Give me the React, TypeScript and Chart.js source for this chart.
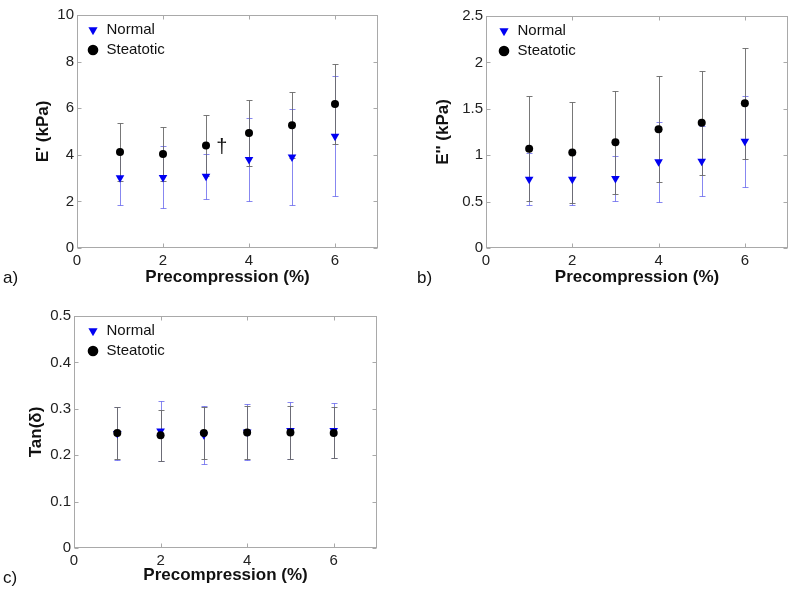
import React, { useEffect, useRef } from "react";
import { Chart, registerables } from "chart.js";

Chart.register(...registerables);

const FONT = "'Liberation Sans', Arial, Helvetica, sans-serif";
Chart.defaults.font.family = FONT;

// ---------------- data ----------------
const precompression = [1, 2, 3, 4, 5, 6];
const xTickValues = [0, 2, 4, 6];
const seriesNames = ["Normal", "Steatotic"];
const xTitle = "Precompression (%)";

// a) storage modulus E'
const storageNormal = [3.01, 3.03, 3.08, 3.8, 3.91, 4.8];
const storageNormalSD = [1.16, 1.33, 0.97, 1.77, 2.05, 2.57];
const storageSteatotic = [4.12, 4.03, 4.4, 4.94, 5.27, 6.18];
const storageSteatoticSD = [1.23, 1.17, 1.3, 1.4, 1.41, 1.73];
const storageTicks = [0, 2, 4, 6, 8, 10];
const storageMark = { x: 3.37, y: 4.33, text: "\u2020" };

// b) loss modulus E''
const lossNormal = [0.74, 0.74, 0.75, 0.93, 0.935, 1.15];
const lossNormalSD = [0.28, 0.28, 0.24, 0.43, 0.38, 0.49];
const lossSteatotic = [1.07, 1.03, 1.14, 1.28, 1.35, 1.56];
const lossSteatoticSD = [0.565, 0.54, 0.555, 0.57, 0.56, 0.6];
const lossTicks = [0, 0.5, 1, 1.5, 2, 2.5];

// c) loss tangent
const tanNormal = [0.247, 0.252, 0.244, 0.25, 0.253, 0.253];
const tanNormalSD = [0.057, 0.065, 0.062, 0.06, 0.061, 0.06];
const tanSteatotic = [0.248, 0.243, 0.248, 0.249, 0.249, 0.248];
const tanSteatoticSD = [0.056, 0.055, 0.056, 0.058, 0.058, 0.055];
const tanTicks = [0, 0.1, 0.2, 0.3, 0.4, 0.5];

// ---------------- plugins ----------------
const framePlugin = {
  id: "frameAndErrors",
  afterLayout(chart: any, _args: any, opts: any) {
    const lg = chart.legend;
    const a = chart.chartArea;
    if (lg && a) {
      lg.left = a.left + (opts.legendDx || 0);
      lg.top = a.top + (opts.legendDy || 0);
      lg.right = a.right;
      lg.bottom = a.bottom;
    }
  },
  beforeDatasetsDraw(chart: any) {
    const { ctx, chartArea: a } = chart;
    const xs = chart.scales.x;
    const ys = chart.scales.y;
    const line = (x1: number, y1: number, x2: number, y2: number) => {
      ctx.beginPath();
      ctx.moveTo(x1, y1);
      ctx.lineTo(x2, y2);
      ctx.stroke();
    };
    ctx.save();
    ctx.strokeStyle = "#a9a9a9";
    ctx.lineWidth = 1;
    const L = Math.round(a.left) + 0.5;
    const R = Math.round(a.right) - 0.5;
    const T = Math.round(a.top) + 0.5;
    const B = Math.round(a.bottom) - 0.5;
    ctx.strokeRect(L, T, R - L, B - T);
    const tl = 4;
    ys.ticks.forEach((t: any) => {
      const y = Math.round(ys.getPixelForValue(t.value)) + 0.5;
      line(L, y, L + tl, y);
      line(R, y, R - tl, y);
    });
    xs.ticks.forEach((t: any) => {
      const x = Math.round(xs.getPixelForValue(t.value)) + 0.5;
      line(x, B, x, B - tl);
      line(x, T, x, T + tl);
    });
    // error bars (mean +/- SD)
    const metas = chart.getSortedVisibleDatasetMetas();
    for (let i = metas.length - 1; i >= 0; i--) {
      const ds = chart.data.datasets[metas[i].index];
      const errs: number[] = ds.errors || [];
      ctx.strokeStyle = ds.errorColor;
      ds.data.forEach((pt: any, j: number) => {
        const x = Math.round(xs.getPixelForValue(pt.x)) + 0.5;
        const yt = Math.round(ys.getPixelForValue(pt.y + errs[j])) + 0.5;
        const yb = Math.round(ys.getPixelForValue(pt.y - errs[j])) + 0.5;
        line(x, yt, x, yb);
        line(x - 3, yt, x + 3, yt);
        line(x - 3, yb, x + 3, yb);
      });
    }
    ctx.restore();
  },
  afterDatasetsDraw(chart: any, _args: any, opts: any) {
    const m = opts.mark;
    if (!m) return;
    const { ctx } = chart;
    ctx.save();
    ctx.fillStyle = "#111";
    ctx.font = `20px ${FONT}`;
    ctx.textAlign = "center";
    ctx.textBaseline = "middle";
    ctx.fillText(m.text, chart.scales.x.getPixelForValue(m.x), chart.scales.y.getPixelForValue(m.y));
    ctx.restore();
  },
};

const toPoints = (ys: number[]) => precompression.map((x, i) => ({ x, y: ys[i] }));

type Area = { left: number; top: number; right: number; bottom: number };
type PanelProps = {
  left: number;
  top: number;
  width: number;
  height: number;
  area: Area;
  yTitleX: number;
  xTitleY: number;
  legendDx: number;
  yTitle: string;
  yTicks: number[];
  normal: number[];
  normalSD: number[];
  steatotic: number[];
  steatoticSD: number[];
  mark?: { x: number; y: number; text: string };
};

function Panel(p: PanelProps) {
  const ref = useRef<HTMLCanvasElement>(null);
  useEffect(() => {
    const titleSize = 17;
    const titleHalf = (titleSize * 1.2) / 2;
    const padLeft = p.yTitleX - titleHalf;
    const padBottom = p.height - p.xTitleY - titleHalf;
    const tickFont = { family: FONT, size: 15 };
    const titleFont = { family: FONT, size: titleSize, weight: "bold" as const };
    const chart = new Chart(ref.current as HTMLCanvasElement, {
      type: "scatter",
      data: {
        datasets: [
          {
            label: seriesNames[0],
            data: toPoints(p.normal),
            errors: p.normalSD,
            errorColor: "rgba(95,95,235,0.75)",
            pointStyle: "triangle",
            pointRotation: 180,
            pointRadius: 5,
            pointBackgroundColor: "#0000f2",
            pointBorderColor: "#0000f2",
            pointBorderWidth: 0,
            backgroundColor: "#0000f2",
            borderColor: "#0000f2",
            order: 2,
          } as any,
          {
            label: seriesNames[1],
            data: toPoints(p.steatotic),
            errors: p.steatoticSD,
            errorColor: "rgba(105,105,105,0.9)",
            pointStyle: "circle",
            pointRadius: 4,
            pointBackgroundColor: "#000",
            pointBorderColor: "#000",
            pointBorderWidth: 0,
            backgroundColor: "#000",
            borderColor: "#000",
            order: 1,
          } as any,
        ],
      },
      options: {
        responsive: false,
        animation: false,
        devicePixelRatio: 1,
        events: [],
        layout: {
          padding: {
            left: padLeft,
            top: p.area.top,
            right: p.width - p.area.right,
            bottom: padBottom,
          },
        },
        plugins: {
          tooltip: { enabled: false },
          legend: {
            position: "chartArea",
            align: "start",
            reverse: true,
            labels: {
              usePointStyle: true,
              boxWidth: 12,
              boxHeight: 7.5,
              padding: 5,
              color: "#111",
              font: { family: FONT, size: 15 },
            },
          },
          frameAndErrors: { mark: p.mark, legendDx: p.legendDx, legendDy: 2.5 },
        } as any,
        scales: {
          x: {
            type: "linear",
            min: 0,
            max: 7,
            afterBuildTicks: (s: any) => {
              s.ticks = xTickValues.map((v) => ({ value: v }));
            },
            afterFit: (s: any) => {
              s.height = p.height - padBottom - p.area.bottom;
            },
            grid: { display: false, drawTicks: false },
            border: { display: false },
            ticks: {
              padding: 4,
              maxRotation: 0,
              autoSkip: false,
              color: "#222",
              font: tickFont,
              callback: (v: any) => String(v),
            },
            title: { display: true, text: xTitle, color: "#111", font: titleFont, padding: 0 },
          },
          y: {
            type: "linear",
            min: p.yTicks[0],
            max: p.yTicks[p.yTicks.length - 1],
            afterBuildTicks: (s: any) => {
              s.ticks = p.yTicks.map((v) => ({ value: v }));
            },
            afterFit: (s: any) => {
              s.width = p.area.left - padLeft;
            },
            grid: { display: false, drawTicks: false },
            border: { display: false },
            ticks: {
              padding: 3,
              autoSkip: false,
              color: "#222",
              font: tickFont,
              callback: (v: any) => String(v),
            },
            title: { display: true, text: p.yTitle, color: "#111", font: titleFont, padding: 0 },
          },
        },
      },
      plugins: [framePlugin as any],
    });
    return () => chart.destroy();
  }, []);
  return (
    <canvas
      ref={ref}
      width={p.width}
      height={p.height}
      style={{ position: "absolute", left: p.left, top: p.top, width: p.width, height: p.height }}
    />
  );
}

const panelLabel = (left: number, top: number): React.CSSProperties => ({
  position: "absolute",
  left,
  top,
  fontFamily: FONT,
  fontSize: 17,
  lineHeight: "17px",
  color: "#111",
});

export default function App() {
  return (
    <div
      style={{
        position: "fixed",
        left: 0,
        top: 0,
        width: 800,
        height: 596,
        background: "#fff",
        overflow: "hidden",
      }}
    >
      <Panel
        left={0}
        top={0}
        width={400}
        height={290}
        area={{ left: 77, top: 15, right: 378, bottom: 248 }}
        yTitleX={43}
        xTitleY={277}
        legendDx={5}
        yTitle="E' (kPa)"
        yTicks={storageTicks}
        normal={storageNormal}
        normalSD={storageNormalSD}
        steatotic={storageSteatotic}
        steatoticSD={storageSteatoticSD}
        mark={storageMark}
      />
      <Panel
        left={400}
        top={0}
        width={400}
        height={290}
        area={{ left: 86, top: 16, right: 388, bottom: 248 }}
        yTitleX={43}
        xTitleY={277}
        legendDx={7}
        yTitle="E'' (kPa)"
        yTicks={lossTicks}
        normal={lossNormal}
        normalSD={lossNormalSD}
        steatotic={lossSteatotic}
        steatoticSD={lossSteatoticSD}
      />
      <Panel
        left={0}
        top={296}
        width={400}
        height={300}
        area={{ left: 74, top: 20, right: 377, bottom: 252 }}
        yTitleX={36}
        xTitleY={279}
        legendDx={8}
        yTitle="Tan(δ)"
        yTicks={tanTicks}
        normal={tanNormal}
        normalSD={tanNormalSD}
        steatotic={tanSteatotic}
        steatoticSD={tanSteatoticSD}
      />
      <div style={panelLabel(3, 269)}>a)</div>
      <div style={panelLabel(417, 269)}>b)</div>
      <div style={panelLabel(3, 569)}>c)</div>
    </div>
  );
}
